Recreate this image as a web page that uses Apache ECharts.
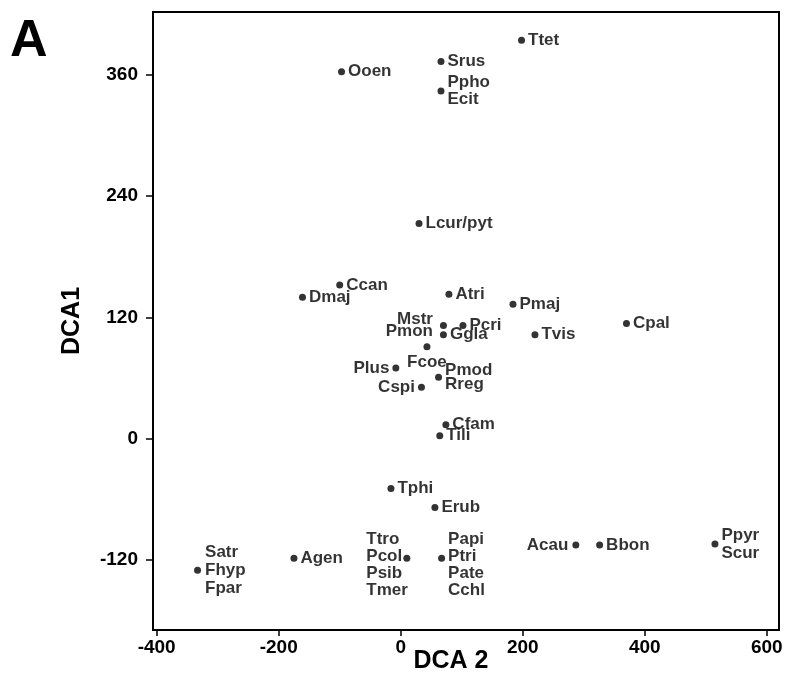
<!DOCTYPE html>
<html>
<head>
<meta charset="utf-8">
<script src="https://cdn.jsdelivr.net/npm/echarts@6/dist/echarts.min.js"></script>
<style>
html,body{margin:0;padding:0;background:#fff;}
#chart{width:788px;height:683px;}
</style>
</head>
<body>
<div id="chart"></div>
<script>
// Species labels for each plotted point (several species may share one point)
const species = [
  ['Ttet'], ['Srus'], ['Ooen'], ['Ppho','Ecit'], ['Lcur/pyt'],
  ['Ccan'], ['Dmaj'], ['Atri'], ['Pmaj'], ['Mstr','Pmon'],
  ['Pcri'], ['Ggla'], ['Tvis'], ['Cpal'], ['Fcoe'],
  ['Plus'], ['Pmod','Rreg'], ['Cspi'], ['Cfam'], ['Tili'],
  ['Tphi'], ['Erub'], ['Agen'], ['Satr','Fhyp','Fpar'], ['Ttro','Pcol','Psib','Tmer'],
  ['Papi','Ptri','Pate','Cchl'], ['Acau'], ['Bbon'], ['Ppyr','Scur']
];
// DCA axis 2 scores (x)
const dca2 = [198, 66, -97, 66, 30, -100, -161, 79, 184, 70,
              102, 70, 220, 370, 43, -8, 62, 34, 74, 64,
              -16, 56, -175, -333, 10, 67, 287, 326, 515];
// DCA axis 1 scores (y)
const dca1 = [394, 373, 363, 344, 213, 152, 140, 143, 133, 112,
              112, 103, 103, 114, 91, 70, 61, 51, 14, 3,
              -49, -68, -118, -130, -118, -118, -105, -105, -104];
// Tick labels
const xTicks = [-400, -200, 0, 200, 400, 600];
const yTicks = [-120, 0, 120, 240, 360];

// Label placement (style, kept apart from the data)
const labelPlace = {
  'Ppho': {position: 'right', distance: 3, offset: [0, 3], lineHeight: 17},
  'Mstr': {position: 'left', distance: 7, offset: [0, -3], lineHeight: 12},
  'Fcoe': {position: 'bottom', distance: 4},
  'Plus': {position: 'left', distance: 3},
  'Pmod': {position: 'right', distance: 3, offset: [0, 3], lineHeight: 14},
  'Cspi': {position: 'left', distance: 3},
  'Cfam': {position: 'right', distance: 3, offset: [0, -2]},
  'Tili': {position: 'right', distance: 3, offset: [0, 2]},
  'Satr': {position: 'right', distance: 4, lineHeight: 18},
  'Ttro': {position: [-37, -24], align: 'left', verticalAlign: 'top', lineHeight: 17},
  'Papi': {position: [10, -24], align: 'left', verticalAlign: 'top', lineHeight: 17},
  'Acau': {position: 'left', distance: 4},
  'Ppyr': {position: 'right', distance: 3, offset: [0, 4], lineHeight: 18}
};

const FONT = '"Liberation Sans", Arial, Helvetica, sans-serif';

const data = species.map(function (sp, i) {
  const place = labelPlace[sp[0]] || {position: 'right', distance: 3};
  return {
    name: sp.join('\n'),
    value: [dca2[i], dca1[i]],
    label: Object.assign({show: true, color: '#000', formatter: sp.join('\n')}, place)
  };
});

function tickFmt(v) { return String(v); }

const chart = echarts.init(document.getElementById('chart'), null, {renderer: 'canvas'});
chart.setOption({
  animation: false,
  backgroundColor: '#ffffff',
  graphic: [{
    type: 'text', left: 10, top: 16,
    style: {text: 'A', font: 'bold 52px ' + FONT, fill: '#000'}
  }],
  grid: {
    left: 153, right: 9, top: 12, bottom: 53,
    outerBoundsMode: 'none', containLabel: false,
    show: true, borderColor: '#000', borderWidth: 2, backgroundColor: 'transparent'
  },
  xAxis: {
    type: 'value', min: -406, max: 620,
    name: 'DCA 2', nameLocation: 'middle', nameGap: 19, nameMoveOverlap: false,
    nameTextStyle: {fontFamily: FONT, fontWeight: 'bold', fontSize: 25, color: '#000', padding: [0, 30, 0, 0]},
    axisLine: {show: true, onZero: false, lineStyle: {color: '#000', width: 2}},
    axisTick: {show: true, inside: false, length: 6, customValues: xTicks, lineStyle: {color: '#000', width: 1.5}},
    axisLabel: {customValues: xTicks, margin: 8, fontFamily: FONT, fontSize: 19, fontWeight: 'bold', color: '#000',
      formatter: tickFmt},
    splitLine: {show: false}
  },
  yAxis: {
    type: 'value', min: -189, max: 422,
    name: 'DCA1', nameLocation: 'middle', nameGap: 68, nameRotate: 90, nameMoveOverlap: false,
    nameTextStyle: {fontFamily: FONT, fontWeight: 'bold', fontSize: 25, color: '#000'},
    axisLine: {show: true, onZero: false, lineStyle: {color: '#000', width: 2}},
    axisTick: {show: true, inside: false, length: 7, customValues: yTicks, lineStyle: {color: '#000', width: 1.5}},
    axisLabel: {customValues: yTicks, margin: 15, fontFamily: FONT, fontSize: 19, fontWeight: 'bold', color: '#000',
      formatter: tickFmt},
    splitLine: {show: false}
  },
  series: [{
    type: 'scatter',
    symbol: 'circle',
    symbolSize: 7,
    itemStyle: {color: '#000'},
    label: {
      show: true, color: '#000', fontFamily: FONT, fontWeight: 'bold', fontSize: 17
    },
    labelLayout: {hideOverlap: false},
    data: data
  }]
});
</script>
</body>
</html>
